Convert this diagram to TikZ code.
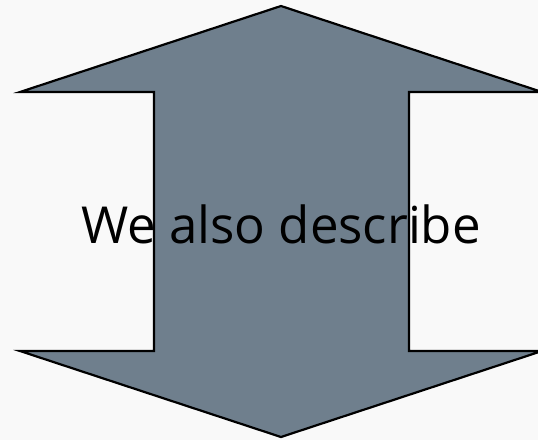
\documentclass[tikz,border=0pt]{standalone}
\usepackage{fontspec}
\setmainfont{Open Sans}
\definecolor{bgc}{HTML}{F9F9F9}
\definecolor{arrowfill}{HTML}{6F7F8D}
\begin{document}
\begin{tikzpicture}[x=1pt,y=-1pt,
  arrowshape/.style={fill=arrowfill,draw=black,line width=2.2pt,line join=miter},
  label/.style={font=\fontsize{51}{61}\selectfont,text=black,inner sep=0pt}]
\fill[bgc] (0,0) rectangle (538,440);
\useasboundingbox (0,0) rectangle (538,440);
\draw[arrowshape] (281,6) -- (20,92) -- (154,92) -- (154,351) -- (20,351) -- (281,437)
  -- (542,351) -- (409,351) -- (409,92) -- (542,92) -- cycle;
\node[label] (t) at (281,224) {We also describe};
\end{tikzpicture}
\end{document}
